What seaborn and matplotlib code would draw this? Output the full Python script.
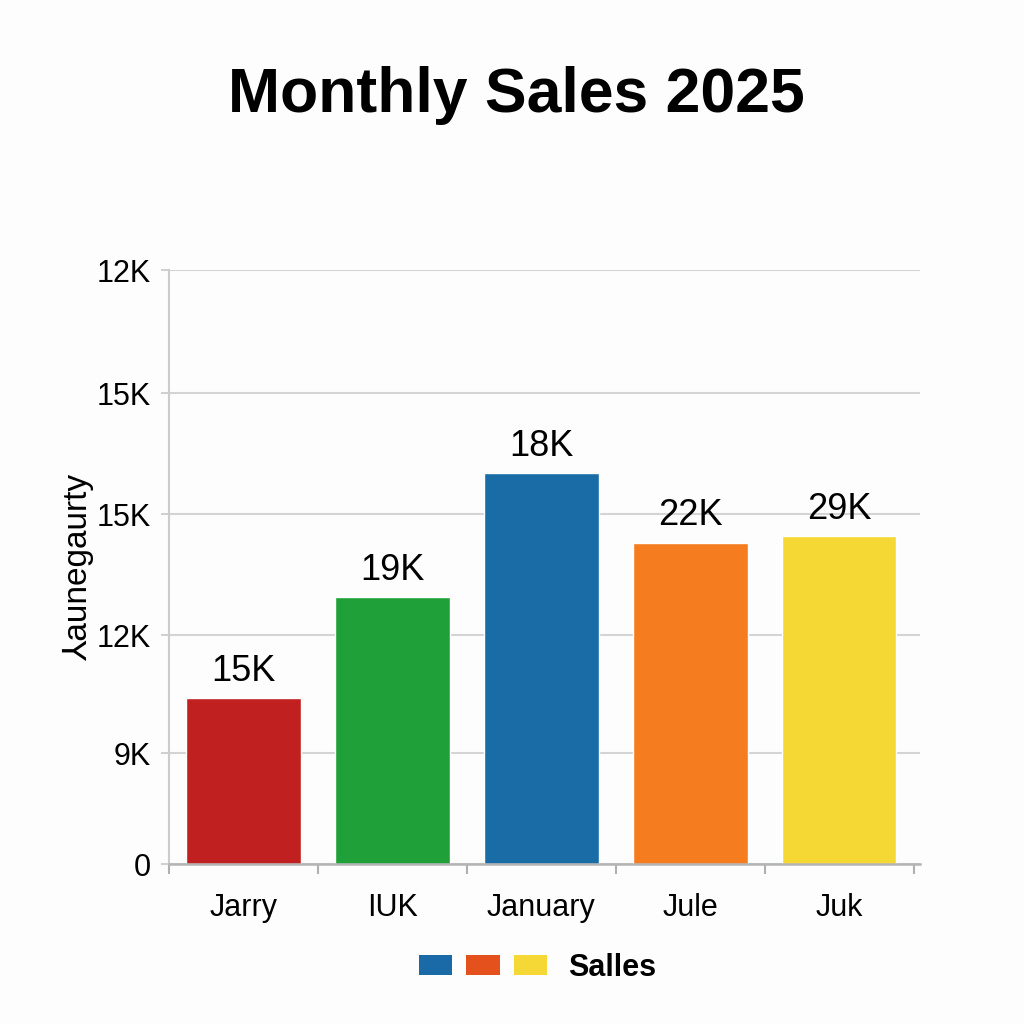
import numpy as np
import pandas as pd
import seaborn as sns
import matplotlib.pyplot as plt
from matplotlib.patches import Patch
from matplotlib.legend_handler import HandlerTuple

# data
months = ['Jarry', 'IUK', 'January', 'Jule', 'Juk']
sales = [6.7, 10.8, 15.8, 13.0, 13.25]          # bar heights in axis units
bar_labels = ['15K', '19K', '18K', '22K', '29K']
bar_colors = ['#c02020', '#20a038', '#1a6ca6', '#f57d1f', '#f5d833']

tick_pos = [0, 4.48, 9.25, 14.14, 19.03, 24]
tick_labels = ['0', '9K', '12K', '15K', '15K', '12K']

legend_colors = ['#1a6aa8', '#e5511d', '#f5d835']
legend_label = 'Salles'

sns.set_theme(style='whitegrid')
plt.rcParams['font.family'] = ['Liberation Sans', 'DejaVu Sans']
plt.rcParams['text.color'] = 'black'
plt.rcParams['xtick.labelcolor'] = 'black'
plt.rcParams['ytick.labelcolor'] = 'black'
plt.rcParams['axes.labelcolor'] = 'black'

df = pd.DataFrame({'month': months, 'sales': sales})

fig = plt.figure(figsize=(10.24, 10.24), dpi=100, facecolor='#fdfdfd')
ax = fig.add_axes([0.165, 0.156, 0.733, 0.58])
ax.set_facecolor('#fdfdfd')

sns.barplot(data=df, x='month', y='sales', hue='month', palette=bar_colors,
            legend=False, width=0.77, saturation=1, ax=ax)

for i, (v, lab) in enumerate(zip(sales, bar_labels)):
    ax.text(i, v + 0.7, lab, ha='center', va='baseline', fontsize=26)

ax.set_ylim(0, 24)
ax.set_xlim(-0.46, 4.54)
ax.set_yticks(tick_pos)
ax.set_yticklabels(tick_labels, fontsize=22)
ax.tick_params(axis='x', labelsize=22, length=0, pad=21)
ax.tick_params(axis='y', length=6, color='#c8c8c8', width=1.2, pad=7, left=True)
ax.set_xticks(np.arange(-0.5, 5, 1), minor=True)
ax.tick_params(axis='x', which='minor', bottom=True, length=7, color='#b0b0b0', width=1.5)

ax.grid(axis='y', color='#d4d4d4', linewidth=1.5)
ax.grid(axis='x', visible=False)
for s in ['top', 'right']:
    ax.spines[s].set_visible(False)
ax.spines['left'].set_color('#cccccc')
ax.spines['left'].set_linewidth(1.5)
ax.spines['bottom'].set_color('#b4b4b4')
ax.spines['bottom'].set_linewidth(1.8)

ax.set_xlabel('')
ax.set_ylabel('\u2144aunegaurty', fontsize=24, labelpad=2)

fig.text(0.504, 0.907, 'Monthly Sales 2025', ha='center', va='center',
         fontsize=45, fontweight='bold', color='black')

handles = tuple(Patch(facecolor=c, edgecolor='none') for c in legend_colors)
fig.legend([handles], [legend_label], handler_map={tuple: HandlerTuple(ndivide=None, pad=0.46)},
           loc='center', bbox_to_anchor=(0.525, 0.055), frameon=False,
           handlelength=4.2, handleheight=0.65, handletextpad=0.7,
           prop={'size': 22, 'weight': 'bold'})

fig.savefig('out.png', dpi=100, facecolor=fig.get_facecolor())
